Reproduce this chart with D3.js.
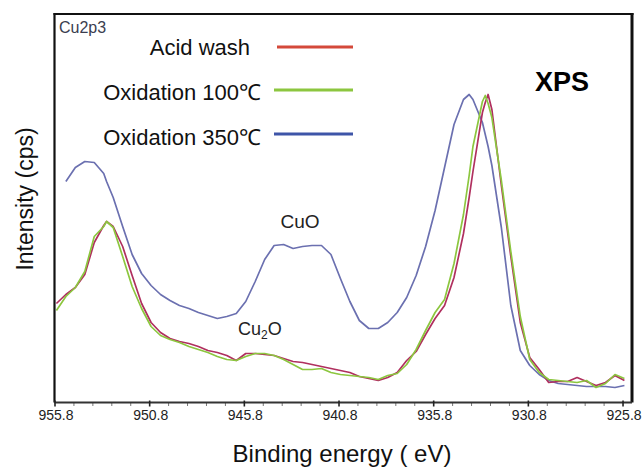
<!DOCTYPE html>
<html>
<head>
<meta charset="utf-8">
<script src="https://cdn.jsdelivr.net/npm/d3@7"></script>
<style>
  body { margin: 0; background: #fff; }
  svg { display: block; font-family: "Liberation Sans", Arial, sans-serif; }
</style>
</head>
<body>
<div id="chart"></div>
<script>
// Binding energy (eV), shared by the three spectra
const energy = [955.7, 955.2, 954.7, 954.2, 953.7, 953.2, 953.05, 952.7, 952.2, 951.7,
  951.2, 950.7, 950.2, 949.7, 949.2, 948.7, 948.2, 947.7, 947.2, 946.7,
  946.2, 945.7, 945.2, 944.7, 944.2, 943.7, 943.2, 942.7, 942.2, 941.7,
  941.2, 940.7, 940.2, 939.7, 939.2, 938.7, 938.2, 937.7, 937.2, 936.7,
  936.2, 935.7, 935.2, 934.7, 934.2, 933.9, 933.7, 933.2, 933.05, 932.9,
  932.7, 932.2, 931.7, 931.2, 930.7, 930.2, 929.7, 929.2, 928.7, 928.2,
  927.7, 927.2, 926.7, 926.2, 925.7];

// Intensity (arbitrary cps units)
const acidWash = [99, 108, 115, 128, 160, 177, 181, 176, 156, 127,
  99, 80, 70, 64, 61, 59, 56, 52, 50, 47,
  42, 49, 49, 48, 47, 44, 41, 40, 38, 36,
  34, 32, 30, 26, 24, 22, 25, 30, 42, 51,
  68, 84, 97, 125, 169, 205, 231, 290, 300, 308,
  293, 217, 146, 80, 45, 33, 20, 21, 21, 25,
  21, 17, 20, 27, 22];

const oxidation100 = [92, 106, 115, 131, 166, 176, 181, 175, 146, 116,
  94, 76, 67, 63, 60, 56, 53, 50, 46, 43,
  42, 46, 49, 49, 47, 43, 38, 33, 33, 34,
  30, 28, 27, 26, 25, 23, 27, 29, 38, 53,
  72, 90, 103, 139, 188, 227, 256, 301, 307, 299,
  285, 222, 151, 86, 43, 30, 23, 22, 21, 20,
  22, 15, 19, 28, 24];

const oxidation350 = [null, 221, 235, 241, 240, 229, 221, 205, 176, 148,
  129, 117, 108, 102, 97, 94, 90, 87, 84, 86,
  89, 101, 121, 143, 157, 158, 154, 156, 157, 157,
  148, 124, 101, 82, 74, 74, 80, 90, 105, 127,
  156, 192, 235, 278, 303, 308, 303, 280, 268, 256,
  237, 175, 97, 52, 37, 28, 22, 19, 18, 17,
  16, 16, 16, 15, 17];

const seriesNames = ["Acid wash", "Oxidation 100\u2103", "Oxidation 350\u2103"];
const curveColors = ["#b0305f", "#8cc63f", "#6b70b0"];
const legendColors = ["#d4493a", "#8cc63f", "#3e55a8"];
const xTicks = [955.8, 950.8, 945.8, 940.8, 935.8, 930.8, 925.8];

const width = 642, height = 467;
const plotLeft = 54.5, plotRight = 632, plotTop = 14, plotBottom = 402.5;

const svg = d3.select("#chart").append("svg")
  .attr("width", width)
  .attr("height", height);

const x = d3.scaleLinear().domain([955.8, 925.3]).range([plotLeft, plotRight]);
const y = d3.scaleLinear().domain([0, 388.5]).range([plotBottom, plotTop]);

svg.append("clipPath").attr("id", "plotClip")
  .append("rect")
  .attr("x", plotLeft).attr("y", plotTop)
  .attr("width", plotRight - plotLeft).attr("height", plotBottom - plotTop);

// spectra
const line = d3.line()
  .defined(d => d[1] != null)
  .x(d => x(d[0]))
  .y(d => y(d[1]));

const allSeries = [acidWash, oxidation100, oxidation350];
const drawOrder = [2, 0, 1];
drawOrder.forEach(i => {
  svg.append("path")
    .datum(energy.map((e, k) => [e, allSeries[i][k]]))
    .attr("clip-path", "url(#plotClip)")
    .attr("fill", "none")
    .attr("stroke", curveColors[i])
    .attr("stroke-width", 1.7)
    .attr("stroke-linejoin", "round")
    .attr("d", line);
});

// frame
svg.append("line").attr("x1", plotLeft).attr("x2", plotLeft).attr("y1", plotTop - 1).attr("y2", plotBottom)
  .attr("stroke", "#111").attr("stroke-width", 2.2);
svg.append("line").attr("x1", plotLeft - 1).attr("x2", plotRight + 1.5).attr("y1", plotTop).attr("y2", plotTop)
  .attr("stroke", "#111").attr("stroke-width", 2);
svg.append("line").attr("x1", plotRight).attr("x2", plotRight).attr("y1", plotTop - 1).attr("y2", plotBottom)
  .attr("stroke", "#111").attr("stroke-width", 3);

// x axis
const minorTicks = d3.range(0, 31).map(i => 955.8 - i).filter(v => !xTicks.some(t => Math.abs(t - v) < 1e-6));

svg.append("g")
  .attr("transform", `translate(0,${plotBottom})`)
  .call(d3.axisBottom(x).tickValues(minorTicks).tickSize(3.5).tickFormat(""))
  .call(g => g.select(".domain").remove())
  .call(g => g.selectAll(".tick line").attr("stroke", "#777").attr("stroke-width", 1));

const xAxis = svg.append("g")
  .attr("transform", `translate(0,${plotBottom})`)
  .call(d3.axisBottom(x).tickValues(xTicks).tickSize(4).tickPadding(4).tickFormat(d3.format(".1f")));

xAxis.select(".domain").attr("stroke", "#333").attr("stroke-width", 2)
  .attr("d", `M${plotLeft},0H${plotRight}`);
xAxis.selectAll(".tick line").attr("stroke", "#222").attr("stroke-width", 1.6).attr("y1", -2);
xAxis.selectAll(".tick text")
  .attr("dx", 1)
  .style("font-size", "14px")
  .style("font-family", "'Liberation Sans', Arial, sans-serif")
  .attr("fill", "#222");

// axis titles
svg.append("text")
  .attr("x", 342).attr("y", 462)
  .attr("text-anchor", "middle")
  .style("font-size", "24px")
  .attr("fill", "#111")
  .text("Binding energy ( eV)");

svg.append("text")
  .attr("transform", "rotate(-90)")
  .attr("x", -199).attr("y", 33)
  .attr("text-anchor", "middle")
  .style("font-size", "23px")
  .attr("fill", "#111")
  .text("Intensity (cps)");

// annotations
svg.append("text")
  .attr("x", 59).attr("y", 33)
  .style("font-size", "16px")
  .attr("fill", "#3a3d4f")
  .text("Cu2p3");

svg.append("text")
  .attr("x", 535).attr("y", 91)
  .style("font-size", "27px")
  .style("font-weight", "bold")
  .attr("fill", "#000")
  .text("XPS");

svg.append("text")
  .attr("x", 300).attr("y", 228)
  .attr("text-anchor", "middle")
  .style("font-size", "19px")
  .attr("fill", "#222")
  .text("CuO");

const cu2o = svg.append("text")
  .attr("x", 238).attr("y", 335)
  .style("font-size", "18px")
  .attr("fill", "#222");
cu2o.append("tspan").text("Cu");
cu2o.append("tspan").attr("dy", 4).style("font-size", "12px").text("2");
cu2o.append("tspan").attr("dy", -4).text("O");

// legend
const legendTextX = [250, 261, 261];
const legendTextY = [55, 100, 145];
const legendLineY = [47, 90, 134];
seriesNames.forEach((name, i) => {
  svg.append("text")
    .attr("x", legendTextX[i]).attr("y", legendTextY[i])
    .attr("text-anchor", "end")
    .style("font-size", "22px")
    .attr("fill", "#111")
    .text(name);
  svg.append("line")
    .attr("x1", i === 0 ? 277 : 274).attr("x2", 353)
    .attr("y1", legendLineY[i]).attr("y2", legendLineY[i])
    .attr("stroke", legendColors[i])
    .attr("stroke-width", 3);
});
</script>
</body>
</html>
